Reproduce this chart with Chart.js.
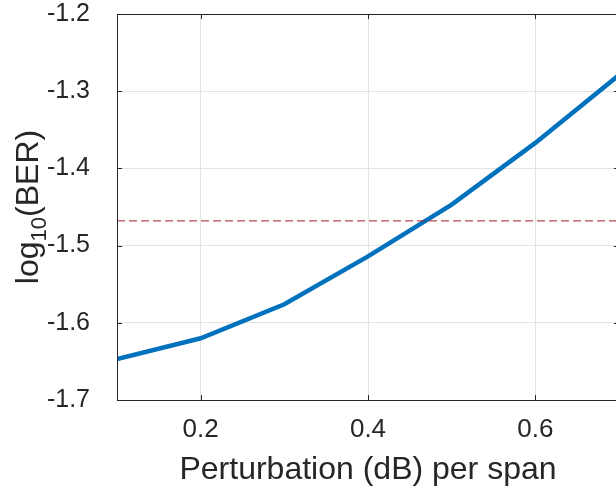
<!DOCTYPE html>
<html>
<head>
<meta charset="utf-8">
<script src="https://cdn.jsdelivr.net/npm/chart.js@4/dist/chart.umd.min.js"></script>
<style>
  html, body { margin: 0; padding: 0; background: #fff; overflow: hidden; }
  #wrap { width: 622px; height: 489px; }
</style>
</head>
<body>
<div id="wrap"><canvas id="berChart" width="622" height="489"></canvas></div>
<script>
// Data
const perturbation = [0.1, 0.2, 0.3, 0.4, 0.5, 0.6, 0.7];
const logBer = [-1.647, -1.620, -1.576, -1.514, -1.447, -1.367, -1.279];
const thresholdValue = -1.468;
const xTickValues = [0.2, 0.4, 0.6];
const yTickValues = [-1.7, -1.6, -1.5, -1.4, -1.3, -1.2];

const FONT = 'Liberation Sans, Arial, Helvetica, sans-serif';
const TXT = '#262626';

// Box around the plot, inward tick marks (MATLAB style) and y title with subscript
const boxPlugin = {
    id: 'box',
    afterDraw(chart) {
        const { ctx, chartArea: a, scales } = chart;
        ctx.save();
        ctx.strokeStyle = '#262626';
        ctx.lineWidth = 1;
        ctx.beginPath();
        ctx.rect(a.left + 0.5, a.top + 0.5, a.right - a.left, a.bottom - a.top);
        ctx.stroke();
        ctx.beginPath();
        xTickValues.forEach(v => {
            const px = Math.round(scales.x.getPixelForValue(v)) + 0.5;
            ctx.moveTo(px, a.bottom); ctx.lineTo(px, a.bottom - 5);
            ctx.moveTo(px, a.top); ctx.lineTo(px, a.top + 5);
        });
        yTickValues.forEach(v => {
            const py = Math.round(scales.y.getPixelForValue(v)) + 0.5;
            ctx.moveTo(a.left, py); ctx.lineTo(a.left + 5, py);
            ctx.moveTo(a.right, py); ctx.lineTo(a.right - 5, py);
        });
        ctx.stroke();

        // y title: log_10(BER)
        const big = '32px ' + FONT, small = '22px ' + FONT;
        ctx.fillStyle = TXT;
        ctx.textBaseline = 'alphabetic';
        ctx.textAlign = 'left';
        ctx.font = big;
        const w1 = ctx.measureText('log').width;
        const w3 = ctx.measureText('(BER)').width;
        ctx.font = small;
        const w2 = ctx.measureText('10').width;
        const total = w1 + w2 + w3;
        ctx.translate(38, (a.top + a.bottom) / 2 + total / 2);
        ctx.rotate(-Math.PI / 2);
        ctx.font = big;
        ctx.fillText('log', 0, 0);
        ctx.font = small;
        ctx.fillText('10', w1, 8);
        ctx.font = big;
        ctx.fillText('(BER)', w1 + w2, 0);
        ctx.restore();
    }
};

new Chart(document.getElementById('berChart'), {
    type: 'line',
    data: {
        labels: perturbation,
        datasets: [
            {
                label: 'log10(BER)',
                data: perturbation.map((x, i) => ({ x: x, y: logBer[i] })),
                borderColor: '#0072BD',
                borderWidth: 4.5,
                pointRadius: 0,
                tension: 0,
                order: 1
            },
            {
                label: 'threshold',
                data: [{ x: perturbation[0], y: thresholdValue }, { x: perturbation[perturbation.length - 1], y: thresholdValue }],
                borderColor: '#a8202c',
                borderWidth: 1,
                borderDash: [8, 4],
                pointRadius: 0,
                order: 0
            }
        ]
    },
    options: {
        responsive: false,
        animation: false,
        layout: { padding: { top: 14, right: 3, left: 0, bottom: 0 } },
        plugins: { legend: { display: false }, tooltip: { enabled: false } },
        scales: {
            x: {
                type: 'linear',
                min: 0.1,
                max: 0.7,
                afterBuildTicks: s => { s.ticks = xTickValues.map(v => ({ value: v })); },
                afterFit: s => { s.height = 89; s.paddingLeft = 0; s.paddingRight = 0; },
                grid: { color: '#e3e3e3', drawTicks: false },
                border: { color: '#262626' },
                ticks: {
                    color: TXT,
                    padding: 14,
                    font: { family: FONT, size: 26 },
                    callback: v => v.toFixed(1)
                },
                title: {
                    display: true,
                    text: 'Perturbation (dB) per span',
                    color: TXT,
                    padding: { top: 0, bottom: 0 },
                    font: { family: FONT, size: 32 }
                }
            },
            y: {
                type: 'linear',
                min: -1.7,
                max: -1.2,
                afterBuildTicks: s => { s.ticks = yTickValues.map(v => ({ value: v })); },
                afterFit: s => { s.width = 117; s.paddingTop = 0; s.paddingBottom = 0; },
                grid: { color: '#e3e3e3', drawTicks: false },
                border: { color: '#262626' },
                ticks: {
                    color: TXT,
                    padding: 27,
                    font: { family: FONT, size: 25 },
                    callback: v => v.toFixed(1)
                },
                title: { display: false }
            }
        }
    },
    plugins: [boxPlugin]
});
</script>
</body>
</html>
